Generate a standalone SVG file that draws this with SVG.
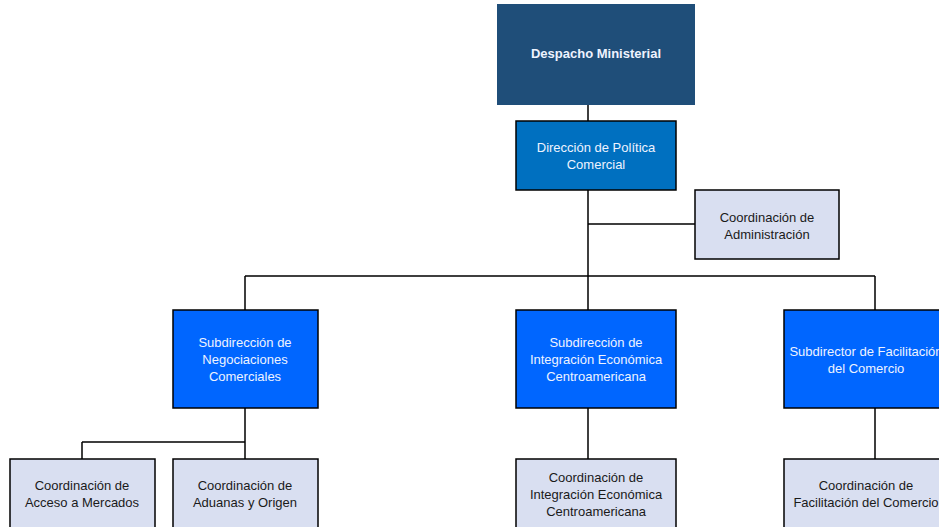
<svg xmlns="http://www.w3.org/2000/svg" width="939" height="527" viewBox="0 0 939 527">
<style>
text{font-family:"Liberation Sans",Arial,sans-serif;font-size:13px;text-anchor:middle}
.w{fill:#EEF3FF}
.k{fill:#1a1a1a}
.sub{fill:#0066FF;stroke:#000;stroke-width:1.5}
.crd{fill:#D9DFF1;stroke:#000;stroke-width:1.5}
.dir{fill:#0070C0;stroke:#000;stroke-width:1.5}
.c{stroke:#000;stroke-width:1.5;fill:none}
</style>
<rect width="939" height="527" fill="#fff"/>
<g id="connectors">
<path class="c" d="M588 105V121M588 190V310M588 224H695M245 276H875M245 276V310M875 276V310M245 408V459M82 442H245M82 442V459M588 408V459M875 408V459"/>
</g>
<g id="despacho">
<rect x="497" y="4" width="198" height="101" fill="#1F4E79"/>
<text x="596" y="58" class="w" style="font-weight:bold">Despacho Ministerial</text>
</g>
<g id="direccion">
<rect class="dir" x="516" y="121" width="160" height="69"/>
<text x="596" y="152" class="w">Dirección de Política</text>
<text x="596" y="169" class="w">Comercial</text>
</g>
<g id="coord-admin">
<rect class="crd" x="695" y="190" width="144" height="69"/>
<text x="767" y="222" class="k">Coordinación de</text>
<text x="767" y="239" class="k">Administración</text>
</g>
<g id="sub-negociaciones">
<rect class="sub" x="173" y="310" width="145" height="98"/>
<text x="245" y="347" class="w">Subdirección de</text>
<text x="245" y="364" class="w">Negociaciones</text>
<text x="245" y="381" class="w">Comerciales</text>
</g>
<g id="sub-integracion">
<rect class="sub" x="516" y="310" width="160" height="98"/>
<text x="596" y="347" class="w">Subdirección de</text>
<text x="596" y="364" class="w">Integración Económica</text>
<text x="596" y="381" class="w">Centroamericana</text>
</g>
<g id="sub-facilitacion">
<rect class="sub" x="784" y="310" width="162" height="98"/>
<text x="866" y="356" class="w">Subdirector de Facilitación</text>
<text x="866" y="373" class="w">del Comercio</text>
</g>
<g id="coord-acceso">
<rect class="crd" x="10" y="459" width="145" height="75"/>
<text x="82" y="490" class="k">Coordinación de</text>
<text x="82" y="507" class="k">Acceso a Mercados</text>
</g>
<g id="coord-aduanas">
<rect class="crd" x="173" y="459" width="145" height="75"/>
<text x="245" y="490" class="k">Coordinación de</text>
<text x="245" y="507" class="k">Aduanas y Origen</text>
</g>
<g id="coord-integracion">
<rect class="crd" x="516" y="459" width="160" height="75"/>
<text x="596" y="482" class="k">Coordinación de</text>
<text x="596" y="499" class="k">Integración Económica</text>
<text x="596" y="516" class="k">Centroamericana</text>
</g>
<g id="coord-facilitacion">
<rect class="crd" x="784" y="459" width="162" height="75"/>
<text x="866" y="490" class="k">Coordinación de</text>
<text x="866" y="507" class="k">Facilitación del Comercio</text>
</g>
</svg>
